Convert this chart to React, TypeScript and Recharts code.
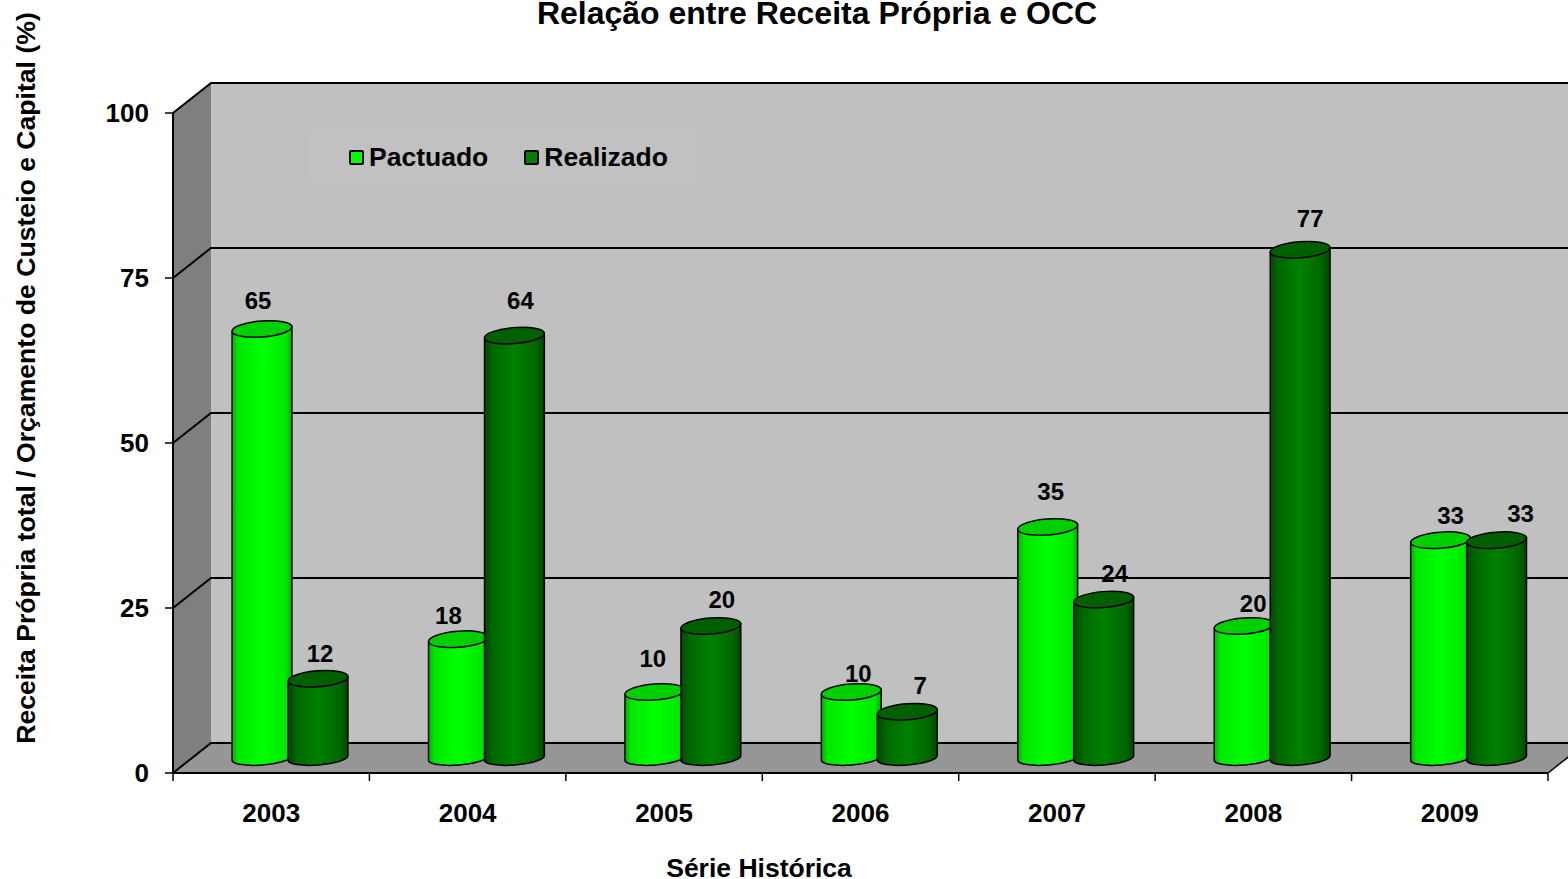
import React from 'react';
import { BarChart, Bar, XAxis, YAxis, Legend, LabelList, ReferenceArea } from 'recharts';

const years = ['2003', '2004', '2005', '2006', '2007', '2008', '2009'];
const pactuado = [65, 18, 10, 10, 35, 20, 33];
const realizado = [12, 64, 20, 7, 24, 77, 33];
const yTicks = [0, 25, 50, 75, 100];

const data = years.map((year, i) => ({ year, pactuado: pactuado[i], realizado: realizado[i] }));

// the excel labels were nudged by hand, so keep the nudges per bar
const pactuadoNudge = [[-4, 1], [-10, 6], [-2, -4], [7, 11], [3, -6], [9, 7], [10, 5]];
const realizadoNudge = [[2, 4], [6, -6], [11, 3], [13, 3], [11, 3], [10, -2], [24, 3]];

const FONT = '"Liberation Sans", Arial, sans-serif';
const CHART_W = 1568;
const LEFT = 173;
const RIGHT = 20;
const DEPTH_X = 38;
const DEPTH_Y = 30;
const TILT = 4.5;

function Walls({ x, y, width, height }: any) {
  const bottom = y + height;
  const right = x + width;
  return (
    <g>
      <polygon points={`${x + DEPTH_X},${y - DEPTH_Y} ${right + DEPTH_X},${y - DEPTH_Y} ${right + DEPTH_X},${bottom - DEPTH_Y} ${x + DEPTH_X},${bottom - DEPTH_Y}`} fill="#c0c0c0" />
      <polygon points={`${x},${y} ${x + DEPTH_X},${y - DEPTH_Y} ${x + DEPTH_X},${bottom - DEPTH_Y} ${x},${bottom}`} fill="#7f7f7f" />
      <polygon points={`${x},${bottom} ${x + DEPTH_X},${bottom - DEPTH_Y} ${right + DEPTH_X},${bottom - DEPTH_Y} ${right},${bottom}`} fill="#969696" />
      <line x1={right} y1={bottom} x2={right + DEPTH_X} y2={bottom - DEPTH_Y} stroke="#000" strokeWidth={1.5} />
    </g>
  );
}

// a ReferenceLine paints over the bars, a ReferenceArea stays behind them,
// so every grid line is the lower edge of a zero-filled band
function GridBand({ x, y, width, height, closeTop }: any) {
  const bottom = y + height;
  const right = x + width;
  const edge = (py: number) => `${x},${py} ${x + DEPTH_X},${py - DEPTH_Y} ${right + DEPTH_X},${py - DEPTH_Y}`;
  return (
    <g fill="none" stroke="#000" strokeWidth={2}>
      <polyline points={edge(bottom)} />
      {closeTop && <polyline points={edge(y)} />}
    </g>
  );
}

function Cylinder({ x, y, width, height, fill, capFill }: any) {
  if (height == null) return null;
  const rx = width / 2;
  const ry = 8;
  const cx = x + rx + DEPTH_X / 2;
  const top = y - DEPTH_Y / 2;
  const bottom = y + height - DEPTH_Y / 2;
  const rad = (TILT * Math.PI) / 180;
  const ex = rx * Math.cos(rad);
  const ey = rx * Math.sin(rad);
  const body = `M${cx - ex},${top + ey} L${cx - ex},${bottom + ey} A${rx},${ry - 1} ${-TILT} 0 0 ${cx + ex},${bottom - ey} L${cx + ex},${top - ey} Z`;
  return (
    <g stroke="#000" strokeWidth={1.5}>
      <path d={body} fill={fill} />
      <ellipse cx={cx} cy={top} rx={rx} ry={ry} fill={capFill} transform={`rotate(${-TILT} ${cx} ${top})`} />
    </g>
  );
}

function BarLabel({ x, y, width, value, index, nudge }: any) {
  const [dx, dy] = nudge[index];
  return (
    <text x={x + width / 2 + DEPTH_X / 2 + dx} y={y - DEPTH_Y / 2 - 21 + dy} textAnchor="middle" fontFamily={FONT} fontWeight="bold" fontSize={24} fill="#000">
      {value}
    </text>
  );
}

// excel puts the x ticks on the band edges, recharts puts them on the centres
function YearTick({ x, y, payload, index }: any) {
  const band = (CHART_W - LEFT - RIGHT) / years.length;
  const left = x - band / 2;
  return (
    <g>
      <line x1={left} y1={y} x2={left} y2={y + 8} stroke="#000" strokeWidth={1.5} />
      {index === years.length - 1 && <line x1={left + band} y1={y} x2={left + band} y2={y + 8} stroke="#000" strokeWidth={1.5} />}
      <text x={x} y={y + 49} textAnchor="middle" fontFamily={FONT} fontWeight="bold" fontSize={26} fill="#000">
        {payload.value}
      </text>
    </g>
  );
}

function ChartLegend({ payload }: any) {
  return (
    <div style={{ display: 'flex', alignItems: 'center', width: 385, height: 48, paddingLeft: 39, boxSizing: 'border-box', background: '#c1c1c1', fontFamily: FONT, fontWeight: 'bold', fontSize: 26.5, color: '#000' }}>
      {(payload || []).map((p: any) => (
        <div key={p.value} style={{ display: 'flex', alignItems: 'center', marginRight: 36 }}>
          <span style={{ width: 11, height: 11, background: p.color, border: '2.5px solid #000', borderRadius: 2, marginRight: 5 }} />
          {p.value}
        </div>
      ))}
    </div>
  );
}

export default function App() {
  return (
    <div style={{ position: 'fixed', left: 0, top: 0, width: CHART_W, height: 879, background: '#fff', overflow: 'hidden' }}>
      <BarChart
        width={CHART_W}
        height={879}
        data={data}
        margin={{ top: 113, right: RIGHT, bottom: 0, left: 0 }}
        barSize={60}
        barGap={-4}
      >
        <defs>
          <linearGradient id="lightBody" x1="0" y1="0" x2="1" y2="0">
            <stop offset="0%" stopColor="#00b000" />
            <stop offset="10%" stopColor="#00e800" />
            <stop offset="50%" stopColor="#00ff00" />
            <stop offset="90%" stopColor="#00e800" />
            <stop offset="100%" stopColor="#00b000" />
          </linearGradient>
          <linearGradient id="darkBody" x1="0" y1="0" x2="1" y2="0">
            <stop offset="0%" stopColor="#004800" />
            <stop offset="15%" stopColor="#006800" />
            <stop offset="50%" stopColor="#008000" />
            <stop offset="85%" stopColor="#006800" />
            <stop offset="100%" stopColor="#004800" />
          </linearGradient>
        </defs>
        <XAxis
          dataKey="year"
          height={106}
          padding={{ left: 0, right: 0 }}
          axisLine={{ stroke: '#000', strokeWidth: 2 }}
          tickLine={false}
          tickSize={0}
          tickMargin={0}
          interval={0}
          tick={<YearTick />}
        />
        <YAxis
          width={LEFT}
          domain={[0, 100]}
          ticks={yTicks}
          axisLine={{ stroke: '#000', strokeWidth: 2 }}
          tickLine={{ stroke: '#000', strokeWidth: 1.5 }}
          tickSize={8}
          tickMargin={16}
          tick={{ fontFamily: FONT, fontWeight: 'bold', fontSize: 26, fill: '#000' }}
        />
        <ReferenceArea y1={0} y2={100} ifOverflow="visible" shape={<Walls />} />
        {yTicks.slice(0, -1).map((t, i) => (
          <ReferenceArea key={t} y1={t} y2={yTicks[i + 1]} ifOverflow="visible" shape={<GridBand closeTop={i === yTicks.length - 2} />} />
        ))}
        <Legend
          verticalAlign="middle"
          align="center"
          content={<ChartLegend />}
          wrapperStyle={{ position: 'absolute', left: 310, top: 133, width: 385, height: 48 }}
        />
        <Bar dataKey="pactuado" name="Pactuado" fill="#00ff00" isAnimationActive={false} shape={<Cylinder fill="url(#lightBody)" capFill="#00d000" />}>
          <LabelList dataKey="pactuado" content={<BarLabel nudge={pactuadoNudge} />} />
        </Bar>
        <Bar dataKey="realizado" name="Realizado" fill="#008000" isAnimationActive={false} shape={<Cylinder fill="url(#darkBody)" capFill="#006000" />}>
          <LabelList dataKey="realizado" content={<BarLabel nudge={realizadoNudge} />} />
        </Bar>
        <text x={817} y={24} textAnchor="middle" fontFamily={FONT} fontWeight="bold" fontSize={32} fill="#000">
          Relação entre Receita Própria e OCC
        </text>
        <text x={759} y={877} textAnchor="middle" fontFamily={FONT} fontWeight="bold" fontSize={26.5} fill="#000">
          Série Histórica
        </text>
        <text transform="translate(35 378) rotate(-90)" textAnchor="middle" fontFamily={FONT} fontWeight="bold" fontSize={26.6} fill="#000">
          Receita Própria total / Orçamento de Custeio e Capital (%)
        </text>
      </BarChart>
    </div>
  );
}
